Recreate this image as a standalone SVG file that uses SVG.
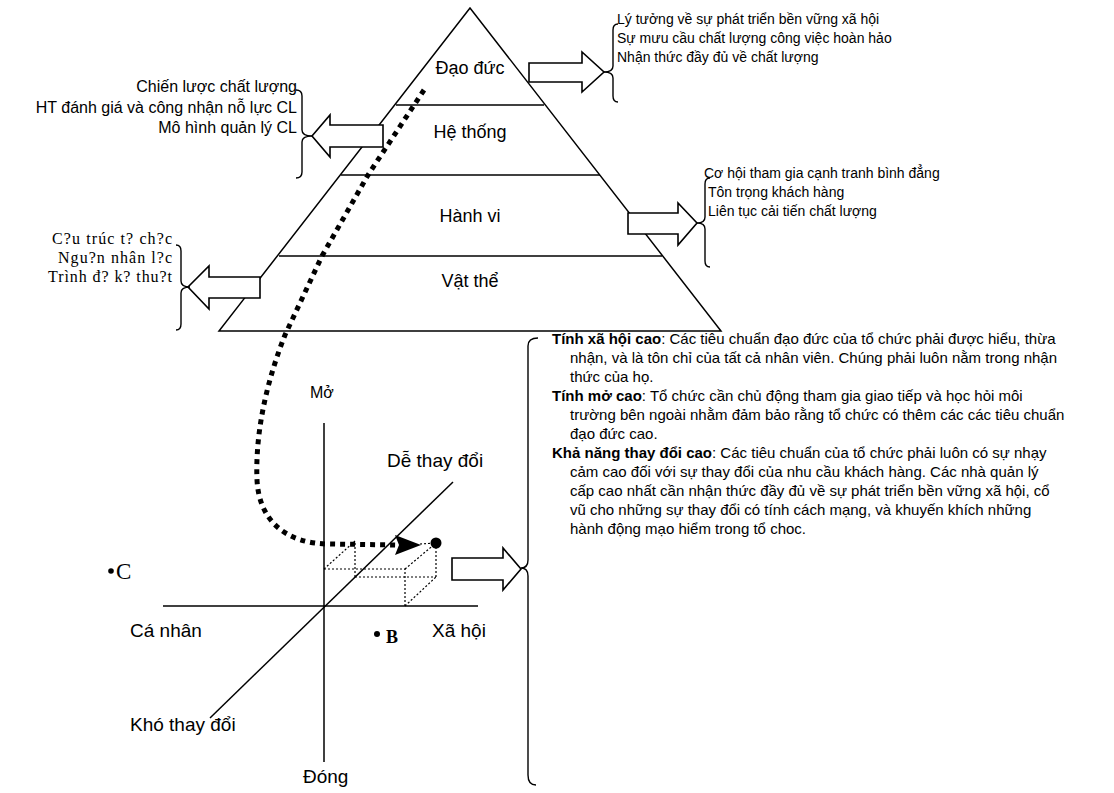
<svg xmlns="http://www.w3.org/2000/svg" width="1114" height="793" viewBox="0 0 1114 793">
<style>
.ln{fill:none;stroke:#000;stroke-width:1.5}
.ar{fill:#fff;stroke:#000;stroke-width:1.6;stroke-linejoin:miter}
.br{fill:none;stroke:#000;stroke-width:1.4}
.cube{fill:none;stroke:#000;stroke-width:1.2;stroke-dasharray:2 2}
.t{font-family:"Liberation Sans",Arial,sans-serif;fill:#000}
.pl{font-size:18px}
.cl{font-size:19px}
.sm{font-size:14px}
.pa{font-size:15px}
.lb{font-size:16px}
.se{font-family:"Liberation Serif","Times New Roman",serif;fill:#000}
.b{font-weight:bold}
</style>
<rect width="1114" height="793" fill="#fff"/>

<g id="pyramid">
<polygon class="ln" points="470,8 219,331 721,331"/>
<line class="ln" x1="396" y1="105" x2="544" y2="105"/>
<line class="ln" x1="341" y1="175" x2="600" y2="175"/>
<line class="ln" x1="279" y1="256" x2="662" y2="256"/>
<text class="t pl" x="470" y="74" text-anchor="middle">Đạo đức</text>
<text class="t pl" x="470" y="138" text-anchor="middle">Hệ thống</text>
<text class="t pl" x="470" y="222" text-anchor="middle">Hành vi</text>
<text class="t pl" x="470" y="287" text-anchor="middle">Vật thể</text>
</g>

<g id="dao-duc-note">
<polygon class="ar" points="529,63 582,63 582,52 604,72 582,92 582,82 529,82"/>
<path class="br" d="M618,24 Q613,24 613,30 L613,66 Q613,72 604,72 Q613,72 613,78 L613,96 Q613,102 618,102"/>
<text class="t sm" x="617" y="24">Lý tưởng về sự phát triển bền vững xã hội</text>
<text class="t sm" x="617" y="43">Sự mưu cầu chất lượng công việc hoàn hảo</text>
<text class="t sm" x="617" y="62">Nhận thức đầy đủ về chất lượng</text>
</g>

<g id="he-thong-note">
<polygon class="ar" points="383,125 330,125 330,115 312,136 330,157 330,147 383,147"/>
<path class="br" d="M296,90 Q302,90 302,96 L302,130 Q302,136 312,136 Q302,136 302,142 L302,172 Q302,178 296,178"/>
<text class="t lb" x="297" y="92" text-anchor="end">Chiến lược chất lượng</text>
<text class="t lb" x="297" y="113" text-anchor="end">HT đánh giá và công nhận nỗ lực CL</text>
<text class="t lb" x="297" y="133" text-anchor="end">Mô hình quản lý CL</text>
</g>

<g id="hanh-vi-note">
<polygon class="ar" points="628,213 678,213 678,203 697,223 678,245 678,234 628,234"/>
<path class="br" d="M710,178 Q705,178 705,184 L705,217 Q705,223 697,223 Q705,223 705,229 L705,261 Q705,267 710,267"/>
<text class="t sm" x="704" y="178">Cơ hội tham gia cạnh tranh bình đẳng</text>
<text class="t sm" x="708" y="197">Tôn trọng khách hàng</text>
<text class="t sm" x="708" y="216">Liên tục cải tiến chất lượng</text>
</g>

<g id="vat-the-note">
<polygon class="ar" points="260,277 209,277 209,266 188,287 209,309 209,298 260,298"/>
<path class="br" d="M176,245 Q181,245 181,251 L181,281 Q181,287 190,287 Q181,287 181,293 L181,324 Q181,330 176,330"/>
<text class="se" style="font-size:16px" x="52" y="244" textLength="120" lengthAdjust="spacing">C?u trúc t? ch?c</text>
<text class="se" style="font-size:16px" x="58" y="263" textLength="114" lengthAdjust="spacing">Ngu?n nhân l?c</text>
<text class="se" style="font-size:16px" x="48" y="282" textLength="124" lengthAdjust="spacing">Trình đ? k? thu?t</text>
</g>

<g id="chart">
<line class="ln" x1="324" y1="423" x2="324" y2="762"/>
<line class="ln" x1="163" y1="606" x2="478" y2="606"/>
<line class="ln" x1="210" y1="718" x2="453" y2="482"/>
<text class="t" style="font-size:16px" x="310" y="398">Mở</text>
<text class="t cl" x="387" y="467">Dễ thay đổi</text>
<text class="t cl" x="130" y="637">Cá nhân</text>
<text class="t cl" x="432" y="637">Xã hội</text>
<text class="t cl" x="130" y="731">Khó thay đổi</text>
<text class="t cl" x="303" y="783">Đóng</text>
<circle cx="111" cy="571" r="2.8"/>
<text class="se" style="font-size:23px" x="116" y="579">C</text>
<circle cx="377" cy="634" r="3"/>
<text class="se b" style="font-size:18px" x="386" y="643">B</text>
<g id="cube">
<line class="cube" x1="324" y1="569" x2="405" y2="569"/>
<line class="cube" x1="405" y1="606" x2="405" y2="569"/>
<line class="cube" x1="324" y1="569" x2="355" y2="541"/>
<line class="cube" x1="355" y1="577" x2="355" y2="541"/>
<line class="cube" x1="355" y1="577" x2="436" y2="577"/>
<line class="cube" x1="436" y1="577" x2="436" y2="543"/>
<line class="cube" x1="405" y1="606" x2="436" y2="577"/>
<line class="cube" x1="405" y1="569" x2="436" y2="543"/>
<line class="cube" x1="420" y1="544" x2="436" y2="543"/>
</g>
<circle cx="436" cy="543" r="5.5"/>
<polygon class="ar" points="452,558 503,558 503,548 521,569 503,590 503,580 452,580"/>
</g>

<g id="connectors">
<path d="M424,90 L368,175 L322,256 L285,335 C268,378 255,430 257,480 C259,520 285,544 330,544 L397,545" fill="none" stroke="#000" stroke-width="5" stroke-dasharray="5 5"/>
<polygon points="395,535 421,545 395,555 399,545" fill="#000"/>
</g>

<g id="description">
<path class="br" d="M538,338 Q528,338 528,346 L528,560 Q528,568 521,568 Q528,568 528,576 L528,775 Q528,785 536,785"/>
<text class="t pa" x="552" y="344"><tspan class="b">Tính xã hội cao</tspan>: Các tiêu chuẩn đạo đức của tổ chức phải được hiểu, thừa</text>
<text class="t pa" x="570" y="363">nhận, và là tôn chỉ của tất cả nhân viên. Chúng phải luôn nằm trong nhận</text>
<text class="t pa" x="570" y="382">thức của họ.</text>
<text class="t pa" x="552" y="401"><tspan class="b">Tính mở cao</tspan>: Tổ chức cần chủ động tham gia giao tiếp và học hỏi môi</text>
<text class="t pa" x="570" y="420">trường bên ngoài nhằm đảm bảo rằng tổ chức có thêm các các tiêu chuẩn</text>
<text class="t pa" x="570" y="439">đạo đức cao.</text>
<text class="t pa" x="552" y="458"><tspan class="b">Khả năng thay đổi cao</tspan>: Các tiêu chuẩn của tổ chức phải luôn có sự nhạy</text>
<text class="t pa" x="570" y="477">cảm cao đối với sự thay đổi của nhu cầu khách hàng. Các nhà quản lý</text>
<text class="t pa" x="570" y="496">cấp cao nhất cần nhận thức đầy đủ về sự phát triển bền vững xã hội, cổ</text>
<text class="t pa" x="570" y="515">vũ cho những sự thay đổi có tính cách mạng, và khuyến khích những</text>
<text class="t pa" x="570" y="534">hành động mạo hiểm trong tổ choc.</text>
</g>
</svg>
